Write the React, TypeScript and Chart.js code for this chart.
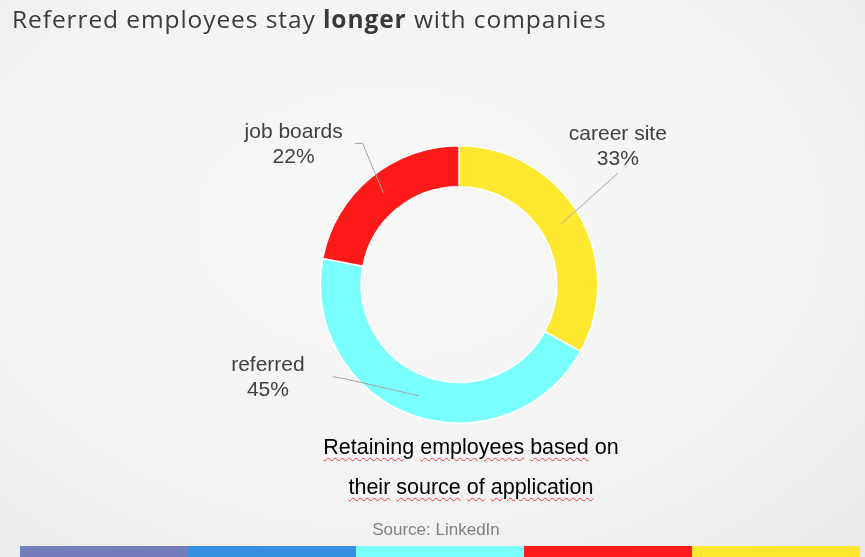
import React, { useEffect, useRef } from "react";
import { Chart, registerables } from "chart.js";

Chart.register(...registerables);

// ---- data ----
const categories = ["career site", "referred", "job boards"];
const shares = [33, 45, 22];
const percentLabels = ["33%", "45%", "22%"];
const sliceColors = ["#FFE930", "#7AFFFF", "#FF1A1A"];
const stripeColors = ["#737DBB", "#368FE0", "#7AFFFF", "#FF1A1A", "#FFE930"];
const titleBefore = "Referred employees stay ";
const titleBold = "longer";
const titleAfter = " with companies";
const captionLines = [
  ["Retaining", "employees", "based", "on"],
  ["their", "source", "of", "application"],
];
const sourceText = "Source: LinkedIn";

// ---- label layout (style, not data) ----
// path: points relative to slice midpoint; text: offset of text centre from last path point
const labelLayout = [
  { path: [[57, -51]], dx: 0, dy1: -39, dy2: -14 },
  { path: [[-74, -17], [-86, -19]], dx: -65, dy1: -12, dy2: 13 },
  { path: [[-21, -50], [-29, -50]], dx: -61, dy1: -11, dy2: 14 },
];

const leaderPlugin = {
  id: "leaderLabels",
  afterDatasetsDraw(chart: any) {
    const ctx = chart.ctx;
    const meta = chart.getDatasetMeta(0);
    meta.data.forEach((arc: any, i: number) => {
      const p = arc.getProps(["x", "y", "startAngle", "endAngle", "innerRadius", "outerRadius"], true);
      const mid = (p.startAngle + p.endAngle) / 2;
      const r = (p.innerRadius + p.outerRadius) / 2;
      const mx = p.x + Math.cos(mid) * r;
      const my = p.y + Math.sin(mid) * r;
      const lay = labelLayout[i];
      ctx.save();
      ctx.strokeStyle = "#A6A6A6";
      ctx.lineWidth = 1;
      ctx.beginPath();
      ctx.moveTo(mx, my);
      let lx = mx, ly = my;
      lay.path.forEach(([ox, oy]) => {
        lx = mx + ox;
        ly = my + oy;
        ctx.lineTo(lx, ly);
      });
      ctx.stroke();
      ctx.fillStyle = "#404040";
      ctx.font = "21px 'Liberation Sans', Arial, sans-serif";
      ctx.textAlign = "center";
      ctx.textBaseline = "middle";
      ctx.fillText(categories[i], lx + lay.dx, ly + lay.dy1);
      ctx.fillText(percentLabels[i], lx + lay.dx, ly + lay.dy2);
      ctx.restore();
    });
  },
};

function ChartCanvas() {
  const ref = useRef<HTMLCanvasElement | null>(null);
  useEffect(() => {
    if (!ref.current) return;
    const chart = new Chart(ref.current, {
      type: "doughnut",
      data: {
        labels: categories,
        datasets: [
          {
            data: shares,
            backgroundColor: sliceColors,
            borderColor: "#FFFFFF",
            borderWidth: 1.5,
          },
        ],
      },
      options: {
        responsive: false,
        animation: false,
        cutout: "70.5%",
        layout: { padding: { left: 319, right: 266, top: 145, bottom: 133 } },
        plugins: {
          legend: { display: false },
          tooltip: { enabled: false },
          title: { display: false },
        },
      },
      plugins: [leaderPlugin],
    });
    return () => chart.destroy();
  }, []);
  return (
    <canvas
      ref={ref}
      width={865}
      height={557}
      style={{ position: "absolute", left: 0, top: 0, width: 865, height: 557 }}
    />
  );
}

export default function App() {
  useEffect(() => {
    document.body.style.margin = "0";
  }, []);
  const squiggle: React.CSSProperties = {
    textDecorationLine: "underline",
    textDecorationStyle: "wavy",
    textDecorationColor: "#E84040",
    textDecorationThickness: "1px",
    textUnderlineOffset: "3px",
  };
  return (
    <div
      style={{
        position: "fixed",
        left: 0,
        top: 0,
        width: 865,
        height: 557,
        overflow: "hidden",
        background: "radial-gradient(ellipse at 45% 40%, #F8F8F8 0%, #F4F4F4 55%, #E9E9E9 100%)",
      }}
    >
      <div
        style={{
          position: "absolute",
          left: 12,
          top: 7,
          fontFamily: "'Open Sans', sans-serif",
          fontSize: 24.5,
          lineHeight: "24.5px",
          letterSpacing: "0.92px",
          color: "#3A3A3A",
          whiteSpace: "nowrap",
        }}
      >
        {titleBefore}
        <b style={{ fontWeight: 700 }}>{titleBold}</b>
        {titleAfter}
      </div>
      <ChartCanvas />
      <div
        style={{
          position: "absolute",
          left: 271,
          width: 400,
          top: 427,
          textAlign: "center",
          fontFamily: "'Liberation Sans', Arial, sans-serif",
          fontSize: 21.5,
          lineHeight: "40px",
          color: "#000",
          whiteSpace: "nowrap",
        }}
      >
        {captionLines.map((words, li) => (
          <div key={li}>
            {words.map((w, wi) => (
              <React.Fragment key={wi}>
                <span style={li === 0 && wi === words.length - 1 ? undefined : squiggle}>{w}</span>
                {wi < words.length - 1 ? " " : ""}
              </React.Fragment>
            ))}
          </div>
        ))}
      </div>
      <div
        style={{
          position: "absolute",
          left: 286,
          width: 300,
          top: 521,
          textAlign: "center",
          fontFamily: "'Liberation Sans', Arial, sans-serif",
          fontSize: 17,
          lineHeight: "17px",
          color: "#808080",
        }}
      >
        {sourceText}
      </div>
      <div style={{ position: "absolute", left: 20, top: 546, height: 11, display: "flex" }}>
        {stripeColors.map((c, i) => (
          <div key={i} style={{ width: 168, height: 11, background: c }} />
        ))}
      </div>
    </div>
  );
}
